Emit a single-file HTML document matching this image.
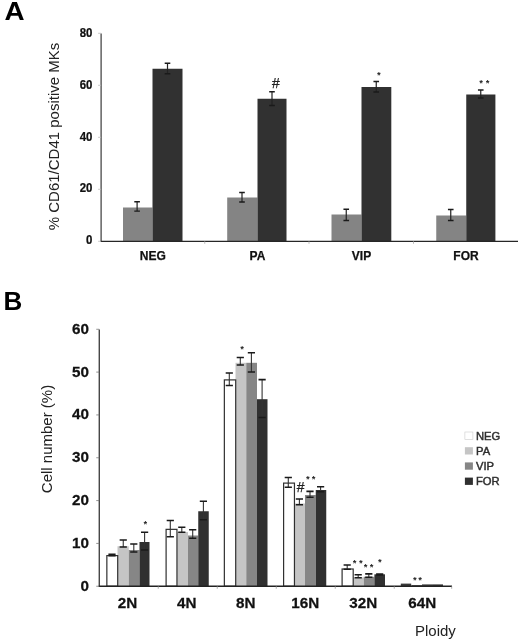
<!DOCTYPE html>
<html><head><meta charset="utf-8"><title>Figure</title>
<style>
html,body{margin:0;padding:0;background:#fff;}
body{width:520px;height:641px;overflow:hidden;}
svg{display:block;filter:blur(0.35px);font-family:"Liberation Sans",sans-serif;}
.tA{stroke:#111;stroke-width:0.25px;font-size:12px;font-weight:bold;fill:#111;}
.cA{stroke:#111;stroke-width:0.25px;font-size:12px;font-weight:bold;fill:#111;}
.tB{stroke:#111;stroke-width:0.25px;font-size:14.5px;font-weight:bold;fill:#111;}
.cB{stroke:#111;stroke-width:0.25px;font-size:14.5px;font-weight:bold;fill:#111;}
.yl{font-size:15px;fill:#222;}
.pl{font-size:26px;font-weight:bold;fill:#000;}
.star{font-size:9px;font-weight:bold;font-style:italic;fill:#222;}
.hash{font-size:14px;font-style:italic;fill:#222;stroke:#222;stroke-width:0.25px;}
.lg{font-size:11px;fill:#2e2e2e;stroke:#2e2e2e;stroke-width:0.45px;}
</style></head>
<body>
<svg width="520" height="641" viewBox="0 0 520 641">
<rect width="520" height="641" fill="#fff"/>
<g id="panelA">
<rect x="123" y="207.5" width="29.5" height="33.80000000000001" fill="#848484"/>
<rect x="152.5" y="68.75" width="30.0" height="172.55" fill="#313131"/>
<rect x="227.2" y="197.5" width="30.30000000000001" height="43.80000000000001" fill="#848484"/>
<rect x="257.5" y="98.75" width="29.0" height="142.55" fill="#313131"/>
<rect x="331.5" y="214.5" width="30.0" height="26.80000000000001" fill="#848484"/>
<rect x="361.5" y="87" width="29.80000000000001" height="154.3" fill="#313131"/>
<rect x="436.25" y="215.5" width="30.0" height="25.80000000000001" fill="#848484"/>
<rect x="466.25" y="94.5" width="29.149999999999977" height="146.8" fill="#313131"/>
<line x1="101.1" y1="33.5" x2="101.1" y2="241.8" stroke="#3a3a3a" stroke-width="1.2"/>
<line x1="100.6" y1="241.3" x2="518.0" y2="241.3" stroke="#262626" stroke-width="1.15"/>
<line x1="98.1" y1="241.3" x2="101.1" y2="241.3" stroke="#bbb" stroke-width="0.8"/>
<text transform="translate(92.5,244.30) scale(0.955,1)" text-anchor="end" class="tA">0</text>
<line x1="98.1" y1="189.3" x2="101.1" y2="189.3" stroke="#bbb" stroke-width="0.8"/>
<text transform="translate(92.5,192.40) scale(0.955,1)" text-anchor="end" class="tA">20</text>
<line x1="98.1" y1="137.3" x2="101.1" y2="137.3" stroke="#bbb" stroke-width="0.8"/>
<text transform="translate(92.5,140.50) scale(0.955,1)" text-anchor="end" class="tA">40</text>
<line x1="98.1" y1="85.30000000000001" x2="101.1" y2="85.30000000000001" stroke="#bbb" stroke-width="0.8"/>
<text transform="translate(92.5,88.60) scale(0.955,1)" text-anchor="end" class="tA">60</text>
<line x1="98.1" y1="33.30000000000001" x2="101.1" y2="33.30000000000001" stroke="#bbb" stroke-width="0.8"/>
<text transform="translate(92.5,36.70) scale(0.955,1)" text-anchor="end" class="tA">80</text>
<line x1="204.75" y1="241.3" x2="204.75" y2="243.8" stroke="#aaa" stroke-width="0.8"/>
<line x1="309" y1="241.3" x2="309" y2="243.8" stroke="#aaa" stroke-width="0.8"/>
<line x1="413.5" y1="241.3" x2="413.5" y2="243.8" stroke="#aaa" stroke-width="0.8"/>
<path d="M137.1 201.8V211.1" stroke="#222" stroke-width="1.2" fill="none"/><path d="M134.29999999999998 201.8H139.9M134.29999999999998 211.1H139.9" stroke="#1a1a1a" stroke-width="1.4" fill="none"/>
<path d="M167.5 63.25V73.75" stroke="#222" stroke-width="1.2" fill="none"/><path d="M164.7 63.25H170.3M164.7 73.75H170.3" stroke="#1a1a1a" stroke-width="1.4" fill="none"/>
<path d="M242 192.5V202" stroke="#222" stroke-width="1.2" fill="none"/><path d="M239.2 192.5H244.8M239.2 202H244.8" stroke="#1a1a1a" stroke-width="1.4" fill="none"/>
<path d="M272 91.75V105.5" stroke="#222" stroke-width="1.2" fill="none"/><path d="M269.2 91.75H274.8M269.2 105.5H274.8" stroke="#1a1a1a" stroke-width="1.4" fill="none"/>
<path d="M346.25 209.25V220.5" stroke="#222" stroke-width="1.2" fill="none"/><path d="M343.45 209.25H349.05M343.45 220.5H349.05" stroke="#1a1a1a" stroke-width="1.4" fill="none"/>
<path d="M376.25 81.5V92" stroke="#222" stroke-width="1.2" fill="none"/><path d="M373.45 81.5H379.05M373.45 92H379.05" stroke="#1a1a1a" stroke-width="1.4" fill="none"/>
<path d="M450.75 209.5V220.5" stroke="#222" stroke-width="1.2" fill="none"/><path d="M447.95 209.5H453.55M447.95 220.5H453.55" stroke="#1a1a1a" stroke-width="1.4" fill="none"/>
<path d="M480.75 90V98" stroke="#222" stroke-width="1.2" fill="none"/><path d="M477.95 90H483.55M477.95 98H483.55" stroke="#1a1a1a" stroke-width="1.4" fill="none"/>
<text x="152.75" y="260" text-anchor="middle" class="cA">NEG</text>
<text x="257.5" y="260" text-anchor="middle" class="cA">PA</text>
<text x="361.5" y="260" text-anchor="middle" class="cA">VIP</text>
<text x="466" y="260" text-anchor="middle" class="cA">FOR</text>
<text x="275.6" y="88" text-anchor="middle" class="hash">#</text>
<text x="378.6" y="78.2" text-anchor="middle" class="star">*</text>
<text x="480.8" y="85.9" text-anchor="middle" class="star">*</text>
<text x="487.2" y="85.9" text-anchor="middle" class="star">*</text>
<text transform="translate(59,136.5) rotate(-90)" text-anchor="middle" class="yl">% CD61/CD41 positive MKs</text>
<text transform="translate(4.6,20) scale(1.07,1)" class="pl">A</text>
</g>
<g id="panelB">
<rect x="117.5" y="546.25" width="11.25" height="40.0" fill="#c5c5c5"/>
<rect x="128.75" y="550" width="10.75" height="36.25" fill="#868686"/>
<rect x="139.5" y="542" width="10.0" height="44.25" fill="#303030"/>
<rect x="176.75" y="532" width="11.25" height="54.25" fill="#c5c5c5"/>
<rect x="188" y="535.5" width="10.25" height="50.75" fill="#868686"/>
<rect x="198.25" y="511.25" width="10.5" height="75.0" fill="#303030"/>
<rect x="235.5" y="362.8" width="10.75" height="223.45" fill="#c5c5c5"/>
<rect x="246.25" y="362.8" width="10.75" height="223.45" fill="#868686"/>
<rect x="257" y="399.2" width="10.5" height="187.05" fill="#303030"/>
<rect x="294.25" y="503.5" width="10.75" height="82.75" fill="#c5c5c5"/>
<rect x="305" y="495" width="10.75" height="91.25" fill="#868686"/>
<rect x="315.75" y="490" width="10.5" height="96.25" fill="#303030"/>
<rect x="353" y="577.5" width="10.800000000000011" height="8.75" fill="#c5c5c5"/>
<rect x="363.8" y="576.8" width="10.599999999999966" height="9.450000000000045" fill="#868686"/>
<rect x="374.4" y="574.3" width="10.600000000000023" height="11.950000000000045" fill="#303030"/>
<rect x="106.85" y="555.6" width="10.85" height="30.65" fill="#fff" stroke="#303030" stroke-width="1.2"/>
<rect x="166.1" y="529.35" width="10.85" height="56.9" fill="#fff" stroke="#303030" stroke-width="1.2"/>
<rect x="224.35" y="379.90000000000003" width="11.35" height="206.35" fill="#fff" stroke="#303030" stroke-width="1.2"/>
<rect x="283.6" y="483.1" width="10.85" height="103.15" fill="#fff" stroke="#303030" stroke-width="1.2"/>
<rect x="342.1" y="569.0" width="11.1" height="17.25000000000002" fill="#fff" stroke="#303030" stroke-width="1.2"/>
<rect x="400.8" y="583.6" width="10.4" height="3" fill="#3a3a3a"/><rect x="411.5" y="585" width="10.5" height="1.5" fill="#555"/><rect x="422" y="584.4" width="11" height="2" fill="#3a3a3a"/><rect x="433" y="584.4" width="10" height="2" fill="#333"/>
<line x1="99.25" y1="329.5" x2="99.25" y2="586.75" stroke="#262626" stroke-width="1.2"/>
<line x1="98.75" y1="586.25" x2="452" y2="586.25" stroke="#222" stroke-width="1.4"/>
<line x1="96.25" y1="586.25" x2="99.25" y2="586.25" stroke="#777" stroke-width="0.8"/>
<text transform="translate(88.9,590.75) scale(1.05,1)" text-anchor="end" class="tB">0</text>
<line x1="96.25" y1="543.42" x2="99.25" y2="543.42" stroke="#777" stroke-width="0.8"/>
<text transform="translate(88.9,547.92) scale(1.05,1)" text-anchor="end" class="tB">10</text>
<line x1="96.25" y1="500.59" x2="99.25" y2="500.59" stroke="#777" stroke-width="0.8"/>
<text transform="translate(88.9,505.09) scale(1.05,1)" text-anchor="end" class="tB">20</text>
<line x1="96.25" y1="457.76" x2="99.25" y2="457.76" stroke="#777" stroke-width="0.8"/>
<text transform="translate(88.9,462.26) scale(1.05,1)" text-anchor="end" class="tB">30</text>
<line x1="96.25" y1="414.92999999999995" x2="99.25" y2="414.92999999999995" stroke="#777" stroke-width="0.8"/>
<text transform="translate(88.9,419.42999999999995) scale(1.05,1)" text-anchor="end" class="tB">40</text>
<line x1="96.25" y1="372.1" x2="99.25" y2="372.1" stroke="#777" stroke-width="0.8"/>
<text transform="translate(88.9,376.6) scale(1.05,1)" text-anchor="end" class="tB">50</text>
<line x1="96.25" y1="329.27" x2="99.25" y2="329.27" stroke="#777" stroke-width="0.8"/>
<text transform="translate(88.9,333.77) scale(1.05,1)" text-anchor="end" class="tB">60</text>
<line x1="158.25" y1="586.25" x2="158.25" y2="588.75" stroke="#999" stroke-width="0.8"/>
<line x1="217.25" y1="586.25" x2="217.25" y2="588.75" stroke="#999" stroke-width="0.8"/>
<line x1="276.25" y1="586.25" x2="276.25" y2="588.75" stroke="#999" stroke-width="0.8"/>
<line x1="335.25" y1="586.25" x2="335.25" y2="588.75" stroke="#999" stroke-width="0.8"/>
<line x1="394.25" y1="586.25" x2="394.25" y2="588.75" stroke="#999" stroke-width="0.8"/>
<line x1="451.7" y1="586.25" x2="451.7" y2="588.75" stroke="#999" stroke-width="0.8"/>
<path d="M112 554.3V555.7" stroke="#333" stroke-width="1.1" fill="none"/><path d="M108.4 554.3H115.6M108.4 555.7H115.6" stroke="#1a1a1a" stroke-width="1.6" fill="none"/>
<path d="M123.25 540V547" stroke="#333" stroke-width="1.1" fill="none"/><path d="M119.65 540H126.85M119.65 547H126.85" stroke="#1a1a1a" stroke-width="1.6" fill="none"/>
<path d="M133.8 544V552" stroke="#333" stroke-width="1.1" fill="none"/><path d="M130.20000000000002 544H137.4M130.20000000000002 552H137.4" stroke="#1a1a1a" stroke-width="1.6" fill="none"/>
<path d="M144.6 532.2V550" stroke="#333" stroke-width="1.1" fill="none"/><path d="M141.0 532.2H148.2M141.0 550H148.2" stroke="#1a1a1a" stroke-width="1.6" fill="none"/>
<path d="M170.3 520.5V536.8" stroke="#333" stroke-width="1.1" fill="none"/><path d="M166.70000000000002 520.5H173.9M166.70000000000002 536.8H173.9" stroke="#1a1a1a" stroke-width="1.6" fill="none"/>
<path d="M181.8 527.2V532.3" stroke="#333" stroke-width="1.1" fill="none"/><path d="M178.20000000000002 527.2H185.4M178.20000000000002 532.3H185.4" stroke="#1a1a1a" stroke-width="1.6" fill="none"/>
<path d="M192.7 529.7V538.2" stroke="#333" stroke-width="1.1" fill="none"/><path d="M189.1 529.7H196.29999999999998M189.1 538.2H196.29999999999998" stroke="#1a1a1a" stroke-width="1.6" fill="none"/>
<path d="M203.4 501.2V519.7" stroke="#333" stroke-width="1.1" fill="none"/><path d="M199.8 501.2H207.0M199.8 519.7H207.0" stroke="#1a1a1a" stroke-width="1.6" fill="none"/>
<path d="M229.3 373V385.5" stroke="#333" stroke-width="1.1" fill="none"/><path d="M225.70000000000002 373H232.9M225.70000000000002 385.5H232.9" stroke="#1a1a1a" stroke-width="1.6" fill="none"/>
<path d="M240.3 357.5V365" stroke="#333" stroke-width="1.1" fill="none"/><path d="M236.70000000000002 357.5H243.9M236.70000000000002 365H243.9" stroke="#1a1a1a" stroke-width="1.6" fill="none"/>
<path d="M251.4 352.8V372" stroke="#333" stroke-width="1.1" fill="none"/><path d="M247.8 352.8H255.0M247.8 372H255.0" stroke="#1a1a1a" stroke-width="1.6" fill="none"/>
<path d="M262.1 379.6V417.5" stroke="#333" stroke-width="1.1" fill="none"/><path d="M258.5 379.6H265.70000000000005M258.5 417.5H265.70000000000005" stroke="#1a1a1a" stroke-width="1.6" fill="none"/>
<path d="M288.3 477.5V487.2" stroke="#333" stroke-width="1.1" fill="none"/><path d="M284.7 477.5H291.90000000000003M284.7 487.2H291.90000000000003" stroke="#1a1a1a" stroke-width="1.6" fill="none"/>
<path d="M299.4 499V504.7" stroke="#333" stroke-width="1.1" fill="none"/><path d="M295.79999999999995 499H303.0M295.79999999999995 504.7H303.0" stroke="#1a1a1a" stroke-width="1.6" fill="none"/>
<path d="M310 491.4V497.2" stroke="#333" stroke-width="1.1" fill="none"/><path d="M306.4 491.4H313.6M306.4 497.2H313.6" stroke="#1a1a1a" stroke-width="1.6" fill="none"/>
<path d="M320.6 486.8V491.8" stroke="#333" stroke-width="1.1" fill="none"/><path d="M317.0 486.8H324.20000000000005M317.0 491.8H324.20000000000005" stroke="#1a1a1a" stroke-width="1.6" fill="none"/>
<path d="M347.2 565V569.3" stroke="#333" stroke-width="1.1" fill="none"/><path d="M343.59999999999997 565H350.8M343.59999999999997 569.3H350.8" stroke="#1a1a1a" stroke-width="1.6" fill="none"/>
<path d="M358.2 574.7V577.7" stroke="#333" stroke-width="1.1" fill="none"/><path d="M354.59999999999997 574.7H361.8M354.59999999999997 577.7H361.8" stroke="#1a1a1a" stroke-width="1.6" fill="none"/>
<path d="M368.8 573.9V577.2" stroke="#333" stroke-width="1.1" fill="none"/><path d="M365.2 573.9H372.40000000000003M365.2 577.2H372.40000000000003" stroke="#1a1a1a" stroke-width="1.6" fill="none"/>
<path d="M379.7 574V575" stroke="#333" stroke-width="1.1" fill="none"/><path d="M376.09999999999997 574H383.3M376.09999999999997 575H383.3" stroke="#1a1a1a" stroke-width="1.6" fill="none"/>
<text transform="translate(127.5,608.3) scale(1.05,1)" text-anchor="middle" class="cB">2N</text>
<text transform="translate(186.75,608.3) scale(1.05,1)" text-anchor="middle" class="cB">4N</text>
<text transform="translate(245.75,608.3) scale(1.05,1)" text-anchor="middle" class="cB">8N</text>
<text transform="translate(305.25,608.3) scale(1.05,1)" text-anchor="middle" class="cB">16N</text>
<text transform="translate(363.25,608.3) scale(1.05,1)" text-anchor="middle" class="cB">32N</text>
<text transform="translate(422.3,608.3) scale(1.05,1)" text-anchor="middle" class="cB">64N</text>
<text x="144.9" y="526.7" text-anchor="middle" class="star">*</text>
<text x="241.8" y="351.7" text-anchor="middle" class="star">*</text>
<text x="300.3" y="491.8" text-anchor="middle" class="hash">#</text>
<text x="307.4" y="482.1" text-anchor="middle" class="star">*</text>
<text x="313.2" y="482.1" text-anchor="middle" class="star">*</text>
<text x="354.3" y="565.6" text-anchor="middle" class="star">*</text>
<text x="360.6" y="565.6" text-anchor="middle" class="star">*</text>
<text x="365.3" y="569.9" text-anchor="middle" class="star">*</text>
<text x="371.2" y="569.9" text-anchor="middle" class="star">*</text>
<text x="379.6" y="565.4" text-anchor="middle" class="star">*</text>
<text x="414.6" y="582.6" text-anchor="middle" class="star">*</text>
<text x="419.8" y="582.6" text-anchor="middle" class="star">*</text>
<text transform="translate(52,439) rotate(-90)" text-anchor="middle" class="yl">Cell number (%)</text>
<text x="415" y="635.6" class="yl">Ploidy</text>
<text x="3.5" y="309.8" class="pl">B</text>
<rect x="464.9" y="432.0" width="8" height="7.3" fill="#fff" stroke="#ccc" stroke-width="0.6"/>
<text transform="translate(476,439.7) scale(1.02,0.97)" class="lg">NEG</text>
<rect x="464.9" y="447.2" width="8" height="7.3" fill="#c5c5c5"/>
<text transform="translate(476,454.9) scale(1.02,0.97)" class="lg">PA</text>
<rect x="464.9" y="462.4" width="8" height="7.3" fill="#868686"/>
<text transform="translate(476,470.09999999999997) scale(1.02,0.97)" class="lg">VIP</text>
<rect x="464.9" y="477.59999999999997" width="8" height="7.3" fill="#303030"/>
<text transform="translate(476,485.29999999999995) scale(1.02,0.97)" class="lg">FOR</text>
</g>
</svg>
</body></html>
